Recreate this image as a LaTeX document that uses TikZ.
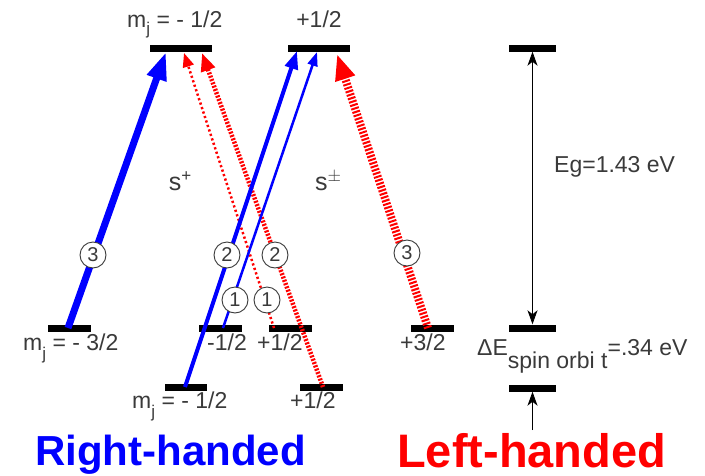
\documentclass[tikz,border=0pt]{standalone}
\usepackage{fontspec}
\setmainfont{Liberation Sans}
\usetikzlibrary{arrows.meta}
\definecolor{txtgray}{RGB}{58,58,58}
\definecolor{pblue}{RGB}{0,0,255}
\definecolor{pred}{RGB}{255,0,0}
\tikzset{
  lvl/.style={fill=black, inner sep=0pt, minimum height=7pt},
  lbl/.style={text=txtgray, inner sep=0pt, font=\fontsize{23}{27}\selectfont},
  num/.style={circle, draw=txtgray, fill=white, line width=0.9pt, inner sep=0pt, minimum size=26pt, text=txtgray, font=\fontsize{20}{22}\selectfont},
  bthick/.style={draw=pblue, line width=7pt, -{Triangle[length=28pt,width=19pt]}, pblue},
  bmed/.style={draw=pblue, line width=4pt, -{Triangle[length=18pt,width=13pt]}, pblue},
  bthin/.style={draw=pblue, line width=2.5pt, -{Triangle[length=14pt,width=10pt]}, pblue},
  rthin/.style={draw=pred, line width=2.5pt, dash pattern=on 2.2pt off 2.5pt, -{Triangle[length=14pt,width=11pt]}, pred},
  rmed/.style={draw=pred, line width=4.5pt, dash pattern=on 2pt off 1.5pt, -{Triangle[length=18pt,width=14pt]}, pred},
  rthick/.style={draw=pred, line width=8pt, dash pattern=on 2pt off 1.6pt, -{Triangle[length=26pt,width=19pt]}, pred},
  gap/.style={draw=black, line width=0.9pt},
  hand/.style={inner sep=0pt, font=\bfseries}
}
\begin{document}
\begin{tikzpicture}[x=1pt,y=-1pt]
\useasboundingbox (0,0) rectangle (705,475);
% levels
\node[lvl, minimum width=62pt] (cbL) at (180.5,48) {};
\node[lvl, minimum width=62pt] (cbR) at (318.5,48) {};
\node[lvl, minimum width=43pt] (hhL) at (69.5,328) {};
\node[lvl, minimum width=43pt] (lhL) at (220.5,328) {};
\node[lvl, minimum width=43pt] (lhR) at (290.5,328) {};
\node[lvl, minimum width=43pt] (hhR) at (432,328) {};
\node[lvl, minimum width=42pt] (soL) at (186,387) {};
\node[lvl, minimum width=43pt] (soR) at (321.5,387) {};
\node[lvl, minimum width=47pt] (egT) at (532.5,48) {};
\node[lvl, minimum width=47pt] (egM) at (532.5,328) {};
\node[lvl, minimum width=47pt] (egB) at (532.5,388) {};
\coordinate (below) at (532.5,430);
% arrow end points
\coordinate (s1) at (68,328);   \coordinate (e1) at (166,52);
\coordinate (s2) at (185,387);  \coordinate (e2) at (297,51);
\coordinate (s3) at (223,328);  \coordinate (e3) at (317,52);
\coordinate (s4) at (274,328);  \coordinate (e4) at (184,53);
\coordinate (s5) at (323,387);  \coordinate (e5) at (202,53);
\coordinate (s6) at (428,328);  \coordinate (e6) at (337,54);
% transitions
\draw[rthin] (s4) -- (e4);
\draw[rmed] (s5) -- (e5);
\draw[rthick] (s6) -- (e6);
\draw[bthick] (s1) -- (e1);
\draw[bmed] (s2) -- (e2);
\draw[bthin] (s3) -- (e3);
% energy gaps
\draw[gap, {Stealth[length=14pt,width=10pt,inset=4pt]}-{Stealth[length=14pt,width=10pt,inset=4pt]}] (egT.south) -- (egM.north);
\draw[gap, -{Stealth[length=14pt,width=10pt,inset=4pt]}] (below) -- (egB.south);
% circled numbers
\node[num] (n3L) at (93,255) {3};
\node[num] (n2L) at (227,255) {2};
\node[num] (n2R) at (275,255) {2};
\node[num] (n1L) at (235,300) {1};
\node[num] (n1R) at (267,300) {1};
\node[num] (n3R) at (407,253) {3};
% labels
\node[lbl, anchor=base west] (tmj) at (127,27) {m\raisebox{-7pt}{\fontsize{17}{17}\selectfont j}\ = - 1/2};
\node[lbl, anchor=base] (tp) at (319,27) {+1/2};
\node[lbl, anchor=base, font=\fontsize{25}{27}\selectfont] (sp) at (180,190) {s\raisebox{9pt}{\fontsize{17}{17}\selectfont +}};
\node[lbl, anchor=base, font=\fontsize{25}{27}\selectfont] (spm) at (328,190) {s\raisebox{9pt}{\fontsize{17}{17}\selectfont $\pm$}};
\node[lbl, anchor=base west] (eg) at (554,172) {Eg=1.43 eV};
\node[lbl, anchor=base west] (hmj) at (23,350) {m\raisebox{-9pt}{\fontsize{17}{17}\selectfont j}\ = - 3/2};
\node[lbl, anchor=base east] (lm) at (247,350) {-1/2};
\node[lbl, anchor=base west] (lp) at (257,350) {+1/2};
\node[lbl, anchor=base west] (hp) at (400,350) {+3/2};
\node[lbl, anchor=base west] (smj) at (132,408) {m\raisebox{-9pt}{\fontsize{17}{17}\selectfont j}\ = - 1/2};
\node[lbl, anchor=base west] (sp2) at (290,408) {+1/2};
\node[lbl, anchor=base west] (de) at (477,355) {ΔE\raisebox{-13pt}{spin\ orbi t}=.34 eV};
\node[hand, anchor=base west, text=pblue, font=\bfseries\fontsize{42}{45}\selectfont] (rh) at (35,465) {Right-handed};
\node[hand, anchor=base west, text=pred, font=\bfseries\fontsize{47}{50}\selectfont] (lh) at (397,467) {Left-handed};
\end{tikzpicture}
\end{document}
